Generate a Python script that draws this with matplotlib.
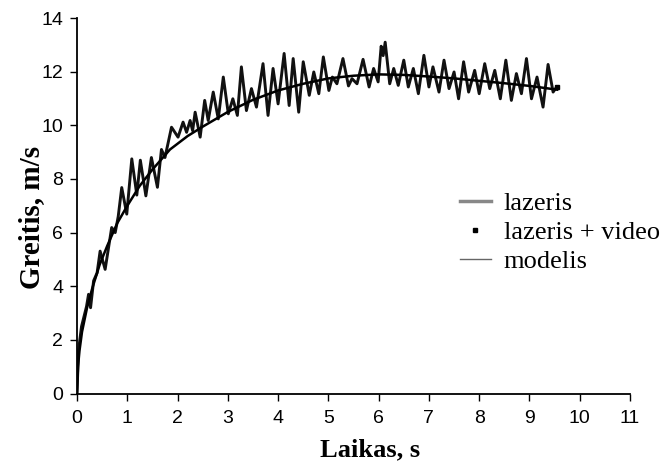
import matplotlib
matplotlib.use('Agg')
import matplotlib.pyplot as plt
from matplotlib.lines import Line2D

# lazeris matavimas (laikas, s / greitis, m/s)
laikas_lazeris = [0.00, 0.03, 0.09, 0.19, 0.23, 0.27, 0.33, 0.40, 0.46, 0.56, 0.69, 0.76,
                  0.82, 0.89, 0.99, 1.09, 1.19, 1.26, 1.37, 1.48, 1.60, 1.68, 1.75, 1.88,
                  2.01, 2.11, 2.18, 2.25, 2.30, 2.35, 2.45, 2.54, 2.61, 2.71, 2.81, 2.91,
                  3.01, 3.10, 3.19, 3.27, 3.37, 3.47, 3.57, 3.70, 3.80, 3.90, 4.00, 4.12,
                  4.22, 4.30, 4.41, 4.50, 4.62, 4.71, 4.81, 4.90, 5.01, 5.08, 5.17, 5.29,
                  5.40, 5.47, 5.57, 5.69, 5.81, 5.90, 5.99, 6.05, 6.09, 6.13, 6.22, 6.30,
                  6.39, 6.50, 6.59, 6.69, 6.79, 6.90, 7.00, 7.08, 7.20, 7.30, 7.40, 7.50,
                  7.59, 7.69, 7.79, 7.91, 8.00, 8.11, 8.21, 8.31, 8.42, 8.53, 8.64, 8.74,
                  8.84, 8.94, 9.04, 9.15, 9.27, 9.37, 9.47, 9.54]
greitis_lazeris = [0.00, 1.60, 2.50, 3.25, 3.70, 3.20, 4.20, 4.50, 5.31, 4.63, 6.19, 6.00,
                   6.60, 7.68, 6.69, 8.75, 7.40, 8.70, 7.37, 8.80, 7.69, 9.10, 8.80, 9.93,
                   9.56, 10.12, 9.74, 10.18, 9.80, 10.49, 9.56, 10.93, 10.18, 11.24, 10.24, 11.80,
                   10.43, 10.99, 10.37, 12.18, 10.55, 11.37, 10.68, 12.30, 10.37, 12.12, 10.80, 12.68,
                   10.74, 12.49, 10.49, 12.37, 11.12, 11.99, 11.18, 12.55, 11.30, 11.80, 11.55, 12.49,
                   11.47, 11.74, 11.55, 12.46, 11.43, 12.12, 11.62, 12.95, 12.60, 13.10, 11.55, 12.12,
                   11.49, 12.43, 11.43, 12.12, 11.18, 12.61, 11.43, 12.18, 11.24, 12.43, 11.37, 11.99,
                   10.99, 12.37, 11.24, 12.05, 11.18, 12.30, 11.37, 12.05, 10.99, 12.43, 10.93, 11.93,
                   11.18, 12.49, 10.99, 11.80, 10.68, 12.27, 11.24, 11.43]

# lazeris + video
laikas_video = [9.55]
greitis_video = [11.43]

# modelis
laikas_modelis = [0.0, 0.02, 0.05, 0.1, 0.2, 0.3, 0.45, 0.6, 0.8, 1.0, 1.25, 1.5, 1.85,
                  2.2, 2.5, 3.0, 3.5, 4.0, 4.5, 5.0, 5.5, 6.0, 6.5, 7.0, 7.5, 8.0, 8.5,
                  9.0, 9.55]
greitis_modelis = [0.0, 1.0, 1.6, 2.3, 3.2, 3.9, 4.8, 5.5, 6.35, 7.0, 7.75, 8.35, 9.1,
                   9.6, 9.95, 10.5, 10.95, 11.3, 11.55, 11.75, 11.85, 11.9, 11.88, 11.82,
                   11.75, 11.66, 11.57, 11.47, 11.33]

fig = plt.figure(figsize=(6.62, 4.63), dpi=100)
ax = fig.add_axes([0.1163, 0.150, 0.8354, 0.811])

ax.plot(laikas_lazeris, greitis_lazeris, color='#111111', lw=2.1,
        solid_joinstyle='round')
ax.plot(laikas_modelis, greitis_modelis, color='black', lw=1.8)
ax.plot(laikas_video, greitis_video, 's', color='black', ms=3.5)

ax.set_xlim(0, 11)
ax.set_ylim(0, 14)
ax.set_xticks(range(0, 12))
ax.set_yticks(range(0, 15, 2))

for s in ['top', 'right']:
    ax.spines[s].set_visible(False)
for s in ['left', 'bottom']:
    ax.spines[s].set_linewidth(1.3)

ax.tick_params(direction='out', length=5, width=1, labelsize=14)
ax.tick_params(axis='x', pad=7)
ax.tick_params(axis='y', pad=5)
for lab in ax.get_xticklabels() + ax.get_yticklabels():
    lab.set_family('Liberation Sans')

serif = 'Liberation Serif'
ax.set_xlabel('Laikas, s', family=serif, fontweight='bold', fontsize=19)
ax.set_ylabel('Greitis, m/s', family=serif, fontweight='bold', fontsize=21, va='center')
ax.xaxis.set_label_coords(0.53, -0.12)
ax.yaxis.set_label_coords(-0.082, 0.47)

# legenda
rankenos = [Line2D([], [], color='#888888', lw=2.5),
            Line2D([], [], ls='none', marker='s', color='black', ms=3.5),
            Line2D([], [], color='#666666', lw=1.0)]
ax.legend(rankenos, ['lazeris', 'lazeris + video', 'modelis'],
          loc='upper left', bbox_to_anchor=(0.693, 0.537), frameon=False,
          borderaxespad=0, borderpad=0, handlelength=1.15, handletextpad=0.5,
          labelspacing=0.2, prop={'family': serif, 'size': 19})

fig.savefig('out.png', dpi=100)
